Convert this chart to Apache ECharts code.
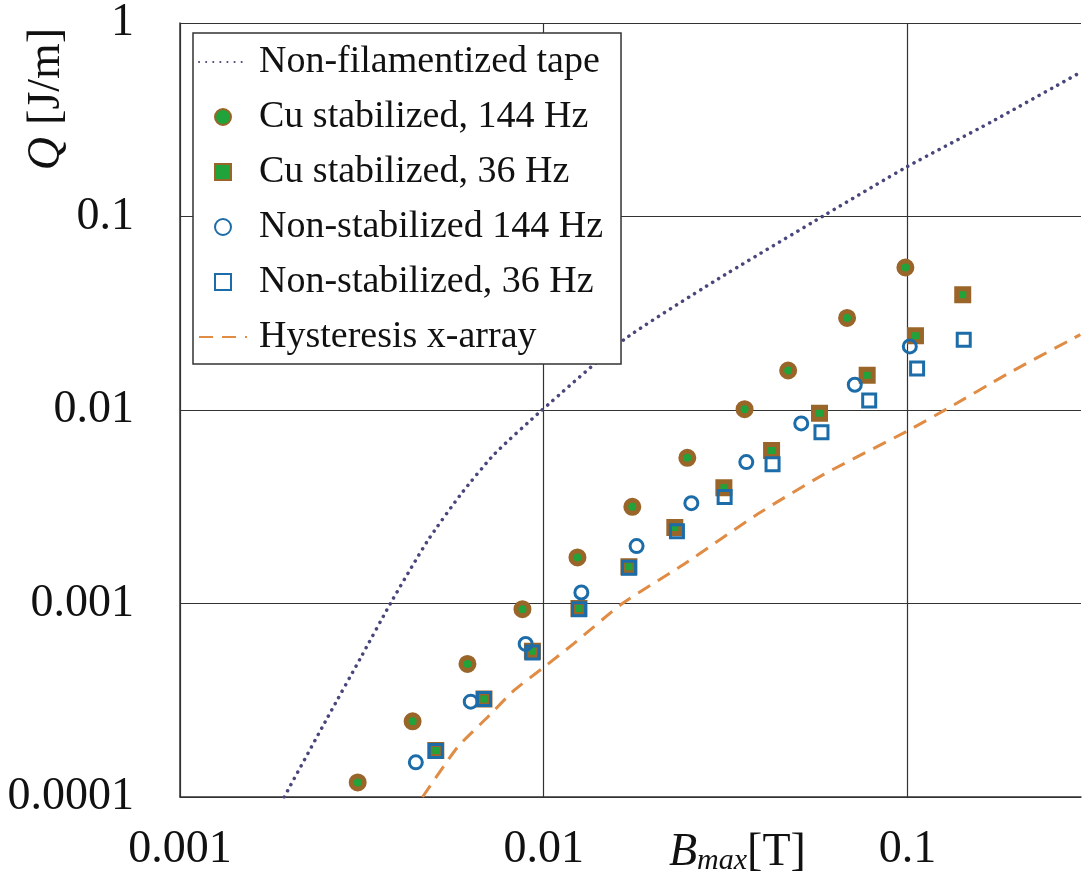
<!DOCTYPE html>
<html>
<head>
<meta charset="utf-8">
<title>Q vs Bmax</title>
<script src="https://cdn.jsdelivr.net/npm/echarts@6/dist/echarts.min.js"></script>
<style>
    html, body { margin: 0; padding: 0; background: #fff; }
    #chart { width: 1084px; height: 882px; }
</style>
</head>
<body>
<div id="chart"></div>
<script>
// tick labels
const xTickValues = [0.001, 0.01, 0.1];
const xTickLabels = ['0.001', '0.01', '0.1'];
const yTickValues = [0.0001, 0.001, 0.01, 0.1, 1];
const yTickLabels = ['0.0001', '0.001', '0.01', '0.1', '1'];

// Cu stabilized, 144 Hz
const cu144B = [0.00308, 0.00436, 0.00617, 0.00874, 0.01238, 0.01752, 0.02482, 0.03566, 0.04699, 0.06824, 0.0987];
const cu144Q = [0.000119, 0.000246, 0.000487, 0.000935, 0.00173, 0.00316, 0.00566, 0.0101, 0.0160, 0.0299, 0.0545];

// Cu stabilized, 36 Hz
const cu36B = [0.00505, 0.00685, 0.00931, 0.0125, 0.01715, 0.02293, 0.03128, 0.04231, 0.05731, 0.07749, 0.1052, 0.1419];
const cu36Q = [0.000174, 0.000321, 0.000566, 0.000942, 0.00155, 0.00247, 0.00397, 0.00618, 0.00963, 0.0151, 0.0242, 0.0394];

// Non-stabilized 144 Hz
const ns144B = [0.00445, 0.0063, 0.00892, 0.01269, 0.018, 0.02546, 0.03605, 0.05105, 0.07165, 0.1015];
const ns144Q = [0.000151, 0.000311, 0.000618, 0.00114, 0.00198, 0.0033, 0.00538, 0.00852, 0.0135, 0.0213];

// Non-stabilized, 36 Hz
const ns36B = [0.00505, 0.00685, 0.00931, 0.0125, 0.01715, 0.02324, 0.03143, 0.04257, 0.05802, 0.07849, 0.1063, 0.1428];
const ns36Q = [0.000173, 0.000321, 0.000559, 0.000935, 0.00153, 0.00236, 0.00355, 0.00524, 0.00768, 0.0112, 0.0164, 0.0231];

// Non-filamentized tape (dotted curve)
const tapeB = [0.001934, 0.002546, 0.003143, 0.0038, 0.004791, 0.005916, 0.0073, 0.00981, 0.01662, 0.02941, 0.05934, 0.09977, 0.1702, 0.3006];
const tapeQ = [0.0001, 0.000258, 0.000527, 0.00101, 0.002105, 0.003665, 0.00589, 0.00986, 0.0231, 0.0462, 0.1019, 0.1808, 0.3086, 0.5588];

// Hysteresis x-array (dashed curve)
const hystB = [0.004644, 0.005792, 0.007004, 0.008272, 0.01, 0.01209, 0.01645, 0.02429, 0.03864, 0.05888, 0.0998, 0.1299, 0.1878, 0.2987];
const hystQ = [0.0001, 0.0001808, 0.0002582, 0.0003546, 0.000468, 0.00062, 0.001, 0.001596, 0.00289, 0.00465, 0.00778, 0.01026, 0.01533, 0.02452];

const FONT = "'Liberation Serif', 'Times New Roman', serif";
const BROWN = '#9a6528';
const GREEN = '#1fa33a';
const BLUE = '#1b6ca8';
const SQUARE = 'path://M0,0L10,0L10,10L0,10Z';

function zip(xs, ys) {
    return xs.map((x, i) => [x, ys[i]]);
}

function tickLabel(values, labels, v) {
    for (let i = 0; i < values.length; i++) {
        if (Math.abs(Math.log10(v) - Math.log10(values[i])) < 1e-6) {
            return labels[i];
        }
    }
    return '';
}

const myChart = echarts.init(document.getElementById('chart'));

const option = {
    backgroundColor: '#fff',
    animation: false,
    textStyle: { fontFamily: FONT },
    grid: { left: 180, right: 3, top: 21, bottom: 85, containLabel: false },
    xAxis: {
        type: 'log',
        logBase: 10,
        min: 0.001,
        max: 0.3,
        axisLine: { show: true, lineStyle: { color: '#333', width: 1.5 } },
        axisTick: { show: false },
        splitLine: { show: true, showMaxLine: false, lineStyle: { color: '#333', width: 1.2 } },
        axisLabel: {
            margin: 30,
            fontSize: 46,
            fontFamily: FONT,
            color: '#111',
            showMaxLabel: false,
            formatter: v => tickLabel(xTickValues, xTickLabels, v)
        }
    },
    yAxis: {
        type: 'log',
        logBase: 10,
        min: 0.0001,
        max: 1,
        axisLine: { show: true, lineStyle: { color: '#333', width: 1.5 } },
        axisTick: { show: false },
        splitLine: { show: true, lineStyle: { color: '#333', width: 1.2 } },
        axisLabel: {
            margin: 46,
            fontSize: 46,
            fontFamily: FONT,
            color: '#111',
            formatter: v => tickLabel(yTickValues, yTickLabels, v)
        }
    },
    legend: {
        left: 193,
        top: 33,
        orient: 'vertical',
        padding: [7, 18, 5, 5],
        itemGap: 11,
        itemWidth: 48,
        itemHeight: 16,
        backgroundColor: '#fff',
        borderColor: '#333',
        borderWidth: 1.5,
        borderRadius: 0,
        textStyle: { fontSize: 38, fontFamily: FONT, color: '#111', lineHeight: 44, padding: [0, 0, 0, 7] },
        data: [
            { name: 'Non-filamentized tape', itemStyle: { opacity: 0 } },
            { name: 'Cu stabilized, 144 Hz' },
            { name: 'Cu stabilized, 36 Hz', icon: SQUARE },
            { name: 'Non-stabilized 144 Hz' },
            { name: 'Non-stabilized, 36 Hz', icon: SQUARE },
            { name: 'Hysteresis x-array', itemStyle: { opacity: 0 } }
        ]
    },
    graphic: [
        {
            type: 'text',
            left: 669,
            top: 822,
            style: {
                text: '{i|B}{sub|max}{n|[T]}',
                rich: {
                    i: { fontSize: 46, fontStyle: 'italic', fontFamily: FONT, fill: '#111', lineHeight: 46, verticalAlign: 'top' },
                    sub: { fontSize: 30, fontStyle: 'italic', fontFamily: FONT, fill: '#111', lineHeight: 30, padding: [24, 0, 0, 0], verticalAlign: 'bottom' },
                    n: { fontSize: 46, fontFamily: FONT, fill: '#111', lineHeight: 46, verticalAlign: 'top' }
                }
            }
        },
        {
            type: 'text',
            x: 47,
            y: 99,
            rotation: Math.PI / 2,
            style: {
                text: '{i|Q}{n|[J/m]}',
                align: 'center',
                verticalAlign: 'middle',
                rich: {
                    i: { fontSize: 46, fontStyle: 'italic', fontFamily: FONT, fill: '#111' },
                    n: { fontSize: 46, fontFamily: FONT, fill: '#111', padding: [0, 0, 0, 12] }
                }
            }
        }
    ],
    series: [
        {
            name: 'Non-filamentized tape',
            type: 'line',
            data: zip(tapeB, tapeQ),
            symbol: 'none',
            smooth: 0.2,
            lineStyle: { color: '#48467a', width: 3.5, type: [0.1, 7], cap: 'round' },
            itemStyle: { color: '#48467a' },
            z: 2
        },
        {
            name: 'Hysteresis x-array',
            type: 'line',
            data: zip(hystB, hystQ),
            symbol: 'none',
            smooth: 0.2,
            lineStyle: { color: '#e08c45', width: 3, type: [14, 9] },
            itemStyle: { color: '#e08c45' },
            z: 2
        },
        {
            name: 'Cu stabilized, 144 Hz',
            type: 'scatter',
            data: zip(cu144B, cu144Q),
            symbol: 'circle',
            symbolSize: 13,
            itemStyle: { color: GREEN, borderColor: BROWN, borderWidth: 5, opacity: 1 },
            z: 3
        },
        {
            name: 'Cu stabilized, 36 Hz',
            type: 'scatter',
            data: zip(cu36B, cu36Q),
            symbol: 'rect',
            symbolSize: 12,
            itemStyle: { color: GREEN, borderColor: BROWN, borderWidth: 5, opacity: 1 },
            z: 3
        },
        {
            name: 'Non-stabilized 144 Hz',
            type: 'scatter',
            data: zip(ns144B, ns144Q),
            symbol: 'circle',
            symbolSize: 13,
            itemStyle: { color: 'rgba(255,255,255,0)', borderColor: BLUE, borderWidth: 3, opacity: 1 },
            z: 4
        },
        {
            name: 'Non-stabilized, 36 Hz',
            type: 'scatter',
            data: zip(ns36B, ns36Q),
            symbol: 'rect',
            symbolSize: 13,
            itemStyle: { color: 'rgba(255,255,255,0)', borderColor: BLUE, borderWidth: 3, opacity: 1 },
            z: 4
        }
    ]
};

myChart.setOption(option);
</script>
</body>
</html>
